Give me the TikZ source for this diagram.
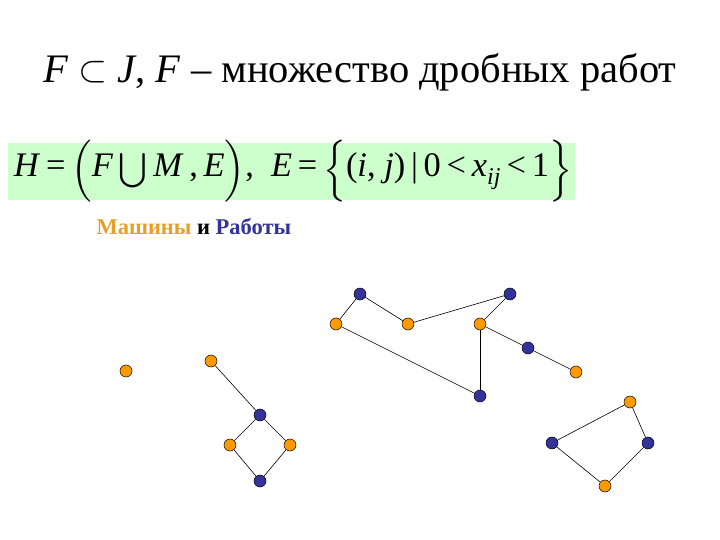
\documentclass[tikz,border=0pt]{standalone}
\usepackage{amsmath,amssymb}
\usepackage{fontspec}
\setmainfont{Liberation Serif}
\usepackage{graphicx}
\usepackage{tikz}
\usetikzlibrary{positioning}
\tikzset{
  vert/.style = {circle, draw=black, line width=0.5pt, inner sep=0pt, minimum size=12pt},
  mach/.style = {vert, fill=my_orange},
  job/.style = {vert, fill=my_blue}
}
\definecolor{my_orange}{RGB}{255, 153, 0}
\definecolor{my_blue}{RGB}{51, 51, 153}
\definecolor{my_gold}{RGB}{230, 160, 40}
\definecolor{my_green}{RGB}{204, 255, 204}

\begin{document}
\begin{tikzpicture}[x=1pt,y=-1pt,
        edge/.style={draw=black, line width=0.6pt}]
        \useasboundingbox (0,0) rectangle (720,540);
        % title and formula
        \node (title) at (360,72) {\fontsize{40.5}{44}\selectfont \textit{F} \raisebox{1pt}{\scalebox{1.5}{$\subset$}} \textit{J}, \textit{F} – множество дробных работ};
        \fill[my_green] (8,143) rectangle (575,200);
        \node (formula) at (293,171) {\resizebox{558pt}{!}{\fontsize{36}{40}\selectfont \textit{H}\,=\,$\biggl($\textit{F}\,$\bigcup$\,\textit{M}\,,\,\textit{E}$\biggr)$,\ \ \textit{E}\,=\,$\biggl\{$(\textit{i}, \textit{j})\,|\,0\,<\,\textit{x}\textsubscript{\textit{ij}}\,<\,1$\biggr\}$}};
        \node[font=\bfseries\fontsize{22.5}{26}\selectfont, anchor=west] (legend) at (93,227) {\textcolor{my_gold}{Машины} и \textcolor{my_blue}{Работы}};
        % machines
        \node[mach] (m1) at (126,371) {};
        \node[mach] (m2) at (211,361) {};
        \node[mach] (m3) at (230,445) {};
        \node[mach] (m4) at (290,445) {};
        \node[mach] (m5) at (336,324) {};
        \node[mach] (m6) at (408,324) {};
        \node[mach] (m7) at (480,324) {};
        \node[mach] (m8) at (576,372) {};
        \node[mach] (m9) at (630,402) {};
        \node[mach] (m10) at (605,486) {};
        % jobs
        \node[job] (j1) at (260,415) {};
        \node[job] (j2) at (260,481) {};
        \node[job] (j3) at (360,294) {};
        \node[job] (j4) at (510,294) {};
        \node[job] (j5) at (528,348) {};
        \node[job] (j6) at (480,396) {};
        \node[job] (j7) at (552,443) {};
        \node[job] (j8) at (648,443) {};
        \foreach \a/\b in {m2/j1, j1/m3, j1/m4, m3/j2, m4/j2,
                           j3/m5, j3/m6, m6/j4, j4/m7, m7/j5, j5/m8, m5/j6, m7/j6,
                           m9/j7, m9/j8, j7/m10, j8/m10}
            \draw[edge] (\a) -- (\b);
\end{tikzpicture}
\end{document}
